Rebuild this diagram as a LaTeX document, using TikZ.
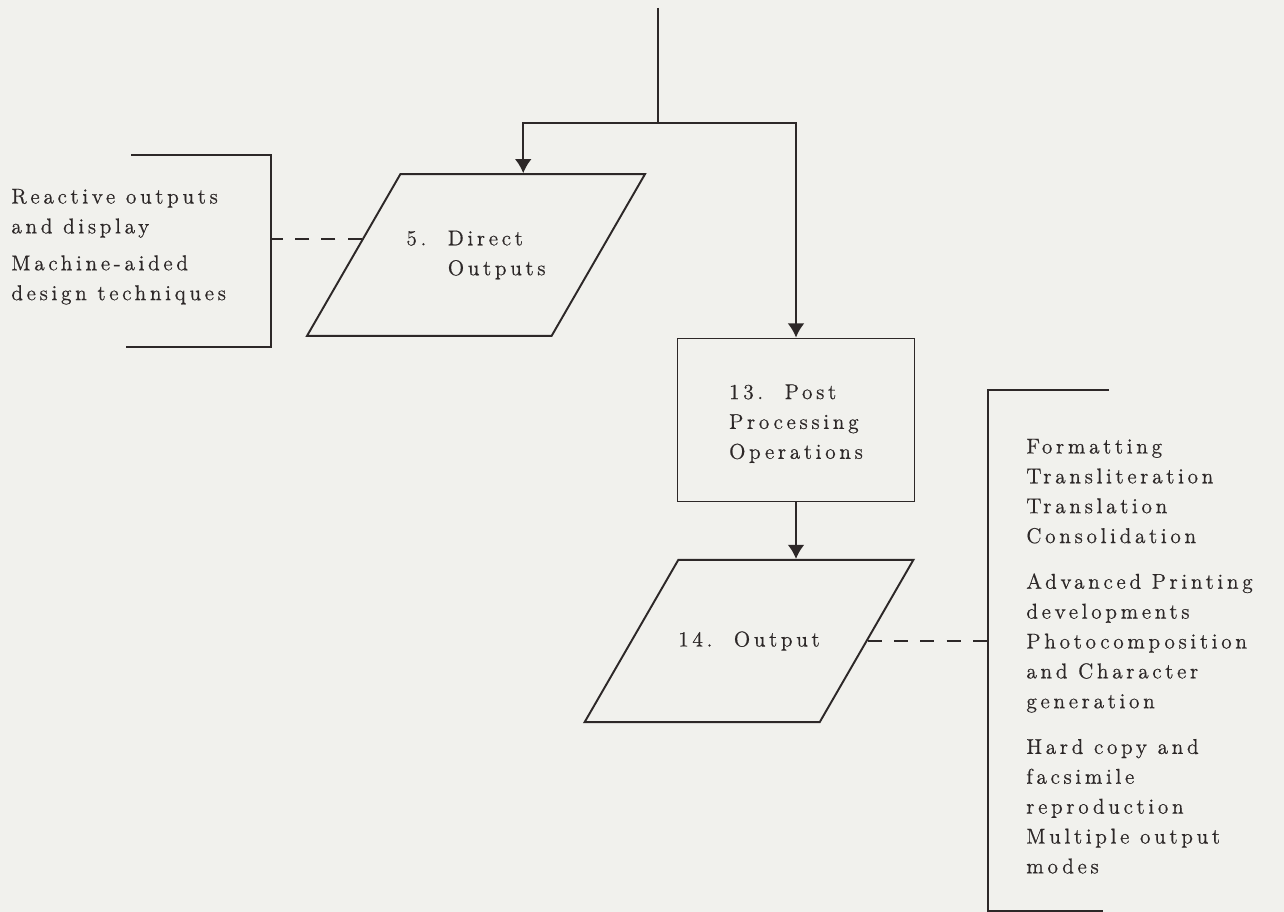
\documentclass[tikz,border=0pt]{standalone}
\usepackage{fontspec}
\usepackage{xcolor}
\usepackage{tikz}
\usetikzlibrary{positioning}
\usetikzlibrary{arrows,arrows.meta,shapes}
\usetikzlibrary{calc}

\newfontfamily\typer{lmroman12-regular.otf}[LetterSpace=17, FakeBold=0.6]

\definecolor{paper}{RGB}{241,241,237}
\definecolor{ink}{RGB}{45,40,40}

\tikzset{
  typed/.style={font=\typer\fontsize{12.2}{17}\selectfont, text=ink},
  io/.style={draw=ink, line width=1.1pt, trapezium, trapezium left angle=60,
    trapezium right angle=120, trapezium stretches body, inner xsep=0pt,
    typed, align=left},
  proc/.style={draw=ink, line width=1.1pt, rectangle, minimum width=4.74cm,
    minimum height=3.26cm, inner sep=0pt, typed, align=left},
  flow/.style={draw=ink, line width=1.1pt},
  link/.style={draw=ink, line width=1.1pt, dash pattern=on 8pt off 7pt},
  brace/.style={draw=ink, line width=1.1pt},
  note/.style={typed, align=left, anchor=north west, inner sep=0pt}
}

\begin{document}
\begin{tikzpicture}[x=0.02cm, y=-0.02cm, >={Latex[length=8pt,width=9.5pt]}]
 \fill[paper] (0,0) rectangle (1284,912);
 \useasboundingbox (0,0) rectangle (1284,912);

 %feed
 \coordinate (feed) at (658,8);
 \coordinate (split) at (658,123);

 %boxes
 \node[io, minimum width=6.76cm, inner ysep=1.13cm] (direct) at (476,255) {5.\quad Direct\\\hphantom{5.\quad }Outputs};
 \node[proc] (post) at (796,420) {\rule{0pt}{4.4mm}13.\quad Post\\Processing\\Operations};
 \node[io, minimum width=6.56cm, inner ysep=1.43cm] (output) at (749,641) {14.\quad Output};

 %lines
 \path[flow] (feed) -- (split);
 \path[flow, ->] (split) -| (direct.top side);
 \path[flow, ->] (split) -| (post.north);
 \path[flow, ->] (post.south) -- (post.south |- output.top side);

 %brackets
 \coordinate (lb) at (271,155);
 \coordinate (rb) at (988,390);
 \path[brace] (131,155) -- (lb) -- (271,347) -- (126,347);
 \path[brace] (1109,390) -- (rb) -- (988,911) -- (1103,911);
 \path[link] (direct.172) -- (direct.172 -| lb);
 \path[link] (output.east) -- (output.east -| rb);

 %notes
 \node[note] (reactive) at (11,188.5) {Reactive outputs\\and display\\[4pt]Machine-aided\\design techniques};
 \node[note] (uses) at (1026,438.5) {Formatting\\Transliteration\\Translation\\Consolidation\\[9pt]Advanced Printing\\developments\\Photocomposition\\and Character\\generation\\[9pt]Hard copy and\\facsimile\\reproduction\\Multiple output\\modes};
\end{tikzpicture}
\end{document}
